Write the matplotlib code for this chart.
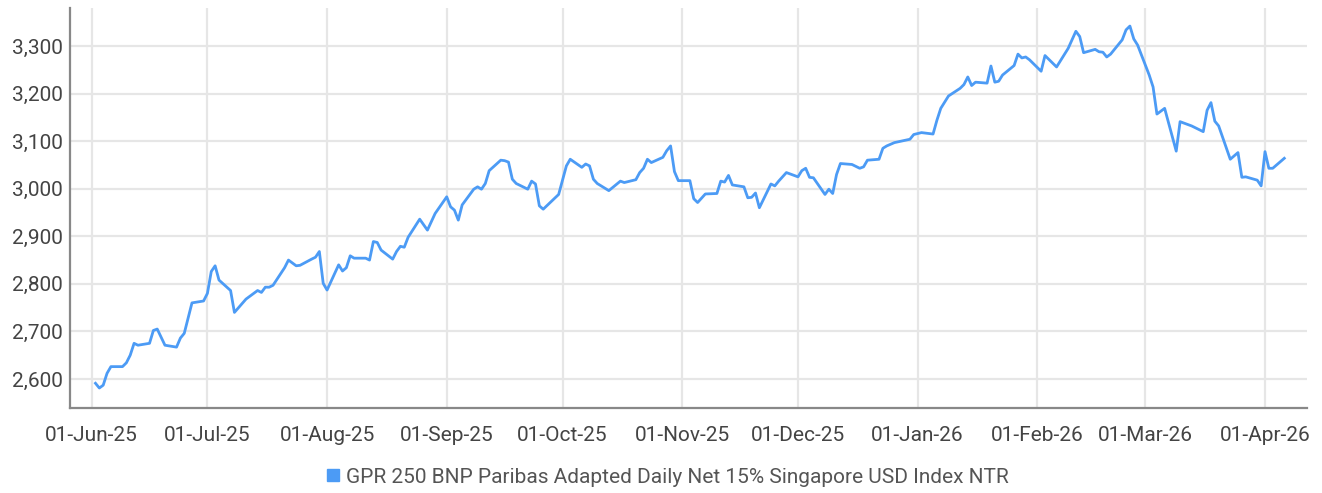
import matplotlib
matplotlib.use("Agg")
import matplotlib.pyplot as plt
import matplotlib.dates as mdates
from matplotlib.lines import Line2D
import pandas as pd

plt.rcParams['font.family'] = ['Roboto', 'DejaVu Sans']

series_name = "GPR 250 BNP Paribas Adapted Daily Net 15% Singapore USD Index NTR"

dates = [
    "2025-06-02", "2025-06-03", "2025-06-04", "2025-06-05", "2025-06-06", "2025-06-09", "2025-06-10",
    "2025-06-11", "2025-06-12", "2025-06-13", "2025-06-16", "2025-06-17", "2025-06-18", "2025-06-20",
    "2025-06-23", "2025-06-24", "2025-06-25", "2025-06-27", "2025-06-30", "2025-07-01", "2025-07-02",
    "2025-07-03", "2025-07-04", "2025-07-07", "2025-07-08", "2025-07-11", "2025-07-14", "2025-07-15",
    "2025-07-16", "2025-07-17", "2025-07-18", "2025-07-21", "2025-07-22", "2025-07-24", "2025-07-25",
    "2025-07-28", "2025-07-29", "2025-07-30", "2025-07-31", "2025-08-01", "2025-08-04", "2025-08-05",
    "2025-08-06", "2025-08-07", "2025-08-08", "2025-08-11", "2025-08-12", "2025-08-13", "2025-08-14",
    "2025-08-15", "2025-08-18", "2025-08-19", "2025-08-20", "2025-08-21", "2025-08-22", "2025-08-25",
    "2025-08-27", "2025-08-29", "2025-09-01", "2025-09-02", "2025-09-03", "2025-09-04", "2025-09-05",
    "2025-09-08", "2025-09-09", "2025-09-10", "2025-09-11", "2025-09-12", "2025-09-15", "2025-09-16",
    "2025-09-17", "2025-09-18", "2025-09-19", "2025-09-22", "2025-09-23", "2025-09-24", "2025-09-25",
    "2025-09-26", "2025-09-30", "2025-10-02", "2025-10-03", "2025-10-06", "2025-10-07", "2025-10-08",
    "2025-10-09", "2025-10-10", "2025-10-13", "2025-10-16", "2025-10-17", "2025-10-20", "2025-10-21",
    "2025-10-22", "2025-10-23", "2025-10-24", "2025-10-27", "2025-10-28", "2025-10-29", "2025-10-30",
    "2025-10-31", "2025-11-03", "2025-11-04", "2025-11-05", "2025-11-07", "2025-11-10", "2025-11-11",
    "2025-11-12", "2025-11-13", "2025-11-14", "2025-11-17", "2025-11-18", "2025-11-19", "2025-11-20",
    "2025-11-21", "2025-11-24", "2025-11-25", "2025-11-26", "2025-11-28", "2025-12-01", "2025-12-02",
    "2025-12-03", "2025-12-04", "2025-12-05", "2025-12-08", "2025-12-09", "2025-12-10", "2025-12-11",
    "2025-12-12", "2025-12-15", "2025-12-17", "2025-12-18", "2025-12-19", "2025-12-22", "2025-12-23",
    "2025-12-24", "2025-12-26", "2025-12-30", "2025-12-31", "2026-01-02", "2026-01-05", "2026-01-06",
    "2026-01-07", "2026-01-09", "2026-01-12", "2026-01-13", "2026-01-14", "2026-01-15", "2026-01-16",
    "2026-01-19", "2026-01-20", "2026-01-21", "2026-01-22", "2026-01-23", "2026-01-26", "2026-01-27",
    "2026-01-28", "2026-01-29", "2026-01-30", "2026-02-02", "2026-02-03", "2026-02-06", "2026-02-09",
    "2026-02-11", "2026-02-12", "2026-02-13", "2026-02-16", "2026-02-17", "2026-02-18", "2026-02-19",
    "2026-02-20", "2026-02-23", "2026-02-24", "2026-02-25", "2026-02-26", "2026-02-27", "2026-03-02",
    "2026-03-03", "2026-03-04", "2026-03-06", "2026-03-09", "2026-03-10", "2026-03-13", "2026-03-16",
    "2026-03-17", "2026-03-18", "2026-03-19", "2026-03-20", "2026-03-23", "2026-03-25", "2026-03-26",
    "2026-03-27", "2026-03-30", "2026-03-31", "2026-04-01", "2026-04-02", "2026-04-03", "2026-04-06",
]

values = [
    2591, 2581, 2587, 2612, 2626, 2626, 2634,
    2650, 2675, 2671, 2675, 2702, 2705, 2671,
    2667, 2686, 2696, 2760, 2764, 2780, 2826,
    2838, 2808, 2786, 2740, 2768, 2786, 2782,
    2793, 2793, 2797, 2834, 2850, 2838, 2839,
    2852, 2856, 2868, 2801, 2787, 2840, 2827,
    2834, 2859, 2854, 2854, 2850, 2889, 2887,
    2871, 2852, 2868, 2879, 2877, 2898, 2936,
    2913, 2948, 2983, 2962, 2955, 2934, 2966,
    2999, 3004, 2999, 3011, 3038, 3060, 3059,
    3056, 3020, 3011, 2999, 3016, 3010, 2964,
    2957, 2988, 3048, 3062, 3045, 3052, 3048,
    3020, 3011, 2996, 3016, 3013, 3019, 3034,
    3043, 3062, 3055, 3066, 3080, 3090, 3036,
    3017, 3017, 2979, 2971, 2989, 2990, 3016,
    3014, 3028, 3008, 3004, 2981, 2982, 2991,
    2960, 3010, 3006, 3016, 3034, 3025, 3038,
    3043, 3024, 3023, 2988, 2999, 2990, 3030,
    3053, 3051, 3043, 3046, 3060, 3062, 3085,
    3090, 3097, 3104, 3114, 3118, 3115, 3144,
    3169, 3195, 3211, 3219, 3235, 3217, 3224,
    3222, 3258, 3224, 3226, 3239, 3259, 3283,
    3275, 3277, 3271, 3247, 3280, 3256, 3295,
    3331, 3320, 3286, 3293, 3288, 3287, 3277,
    3283, 3313, 3334, 3342, 3315, 3302, 3239,
    3214, 3157, 3169, 3079, 3141, 3132, 3120,
    3165, 3181, 3142, 3132, 3062, 3076, 3024,
    3025, 3018, 3006, 3078, 3043, 3043, 3064,
]

x_ticks = ["2025-06-01", "2025-07-01", "2025-08-01", "2025-09-01", "2025-10-01", "2025-11-01",
           "2025-12-01", "2026-01-01", "2026-02-01", "2026-03-01", "2026-04-01"]
y_ticks = [2600, 2700, 2800, 2900, 3000, 3100, 3200, 3300]

line_color = "#4C9BF5"
grid_color = "#E6E6E6"
text_color = "#444444"

fig = plt.figure(figsize=(13.22, 4.93), dpi=100)
ax = fig.add_axes([0.053, 0.1724, 0.936, 0.8114])

x = pd.to_datetime(dates)
ax.plot(x, values, color=line_color, linewidth=2.0, solid_joinstyle='round', zorder=3)

ax.set_xlim(pd.Timestamp("2025-05-26 10:00"), pd.Timestamp("2026-04-12"))
ax.set_ylim(2539, 3380)

ax.set_xticks(pd.to_datetime(x_ticks))
ax.xaxis.set_major_formatter(mdates.DateFormatter("%d-%b-%y"))
ax.set_yticks(y_ticks)
ax.set_yticklabels([f"{v:,}" for v in y_ticks])

ax.grid(True, color=grid_color, linewidth=1.6, zorder=0)
ax.set_axisbelow(True)

for s in ["top", "right"]:
    ax.spines[s].set_visible(False)
for s in ["left", "bottom"]:
    ax.spines[s].set_color("#888888")
    ax.spines[s].set_linewidth(1.6)

ax.tick_params(axis="both", length=0, labelsize=15, colors=text_color)
ax.tick_params(axis="x", pad=13)
ax.tick_params(axis="y", pad=5)

handle = Line2D([], [], linestyle="none", marker="s", markersize=8,
                markerfacecolor=line_color, markeredgecolor=line_color)
fig.legend([handle], [series_name], loc="center", bbox_to_anchor=(0.505, 0.032),
           frameon=False, fontsize=15, handlelength=0.6, handletextpad=0.3,
           labelcolor="#555555")

fig.savefig("out.png", dpi=100)
